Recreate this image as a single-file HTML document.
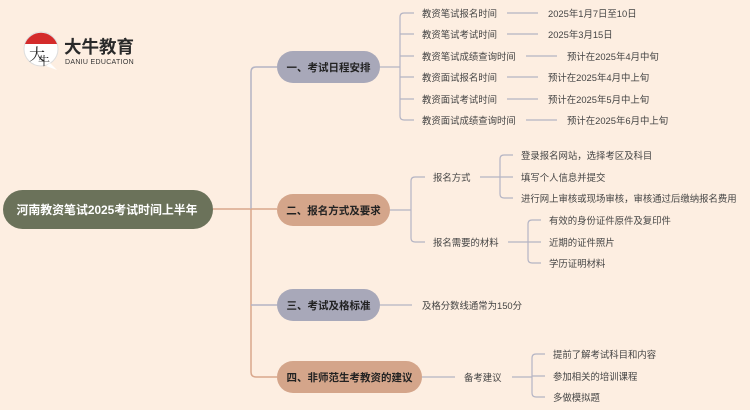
<!DOCTYPE html>
<html><head><meta charset="utf-8"><style>
html,body{margin:0;padding:0;background:#fdeee1;}
svg{display:block;font-family:"Liberation Sans","Noto Sans CJK SC",sans-serif;}
.l{font-size:9.4px;fill:#444;}
.n{font-size:10.5px;font-weight:bold;fill:#222;}
</style></head><body>
<svg width="750" height="410" viewBox="0 0 750 410">
<rect width="750" height="410" fill="#fdeee1"/>
<!-- logo -->
<circle cx="41" cy="49" r="17" fill="#fff" stroke="#ddd" stroke-width="1"/>
<path d="M25 44 A17 17 0 0 1 57 44 Z" fill="#d42b2b"/>
<path d="M50 63 L57 70 L46 66 Z" fill="#fff"/>
<text x="29" y="60" font-size="16" font-family="Noto Serif CJK SC,serif" fill="#222">大</text>
<text x="38" y="65" font-size="12" font-family="Noto Serif CJK SC,serif" fill="#222">牛</text>
<text x="64" y="53" font-size="17.5" font-weight="bold" fill="#2a2a2a">大牛教育</text>
<text x="65" y="64" font-size="7" fill="#333" letter-spacing="0.3">DANIU EDUCATION</text>
<!-- trunk -->
<g fill="none" stroke-width="1.5">
<path d="M213 209 H251" stroke="#d9a78c"/>
<path d="M277 67 H256 Q251 67 251 72 V209" stroke="#b4b4c4"/>
<path d="M251 209 V372 Q251 377 256 377 H277" stroke="#d9a78c"/>
<path d="M251 209 H277" stroke="#d9a78c"/>
<path d="M251 305 H277" stroke="#b4b4c4"/>
</g>
<!-- branch1 -->
<g fill="none" stroke="#b4b4c4" stroke-width="1.2">
<path d="M380 67 H400"/>
<path d="M414 13 H404 Q400 13 400 17 V116 Q400 120 404 120 H414"/>
<path d="M400 34 H414 M400 56 H414 M400 77 H414 M400 99 H414"/>
<path d="M507 13 H538 M507 34 H538 M526 56 H557 M507 77 H538 M507 99 H538 M526 120 H557"/>
</g>
<text class="l" x="422" y="17">教资笔试报名时间</text>
<text class="l" x="422" y="38">教资笔试考试时间</text>
<text class="l" x="422" y="60">教资笔试成绩查询时间</text>
<text class="l" x="422" y="81">教资面试报名时间</text>
<text class="l" x="422" y="103">教资面试考试时间</text>
<text class="l" x="422" y="124">教资面试成绩查询时间</text>
<text class="l" x="548" y="17">2025年1月7日至10日</text>
<text class="l" x="548" y="38">2025年3月15日</text>
<text class="l" x="567" y="60">预计在2025年4月中旬</text>
<text class="l" x="548" y="81">预计在2025年4月中上旬</text>
<text class="l" x="548" y="103">预计在2025年5月中上旬</text>
<text class="l" x="567" y="124">预计在2025年6月中上旬</text>
<!-- branch2 -->
<g fill="none" stroke="#b4b4c4" stroke-width="1.2">
<path d="M390 210 H411"/>
<path d="M425 177 H415 Q411 177 411 181 V238 Q411 242 415 242 H425"/>
<path d="M480 177 H500"/>
<path d="M513 155 H504 Q500 155 500 159 V194 Q500 198 504 198 H513 M500 177 H513"/>
<path d="M508 242 H528"/>
<path d="M541 220 H532 Q528 220 528 224 V259 Q528 263 532 263 H541 M528 242 H541"/>
</g>
<text class="l" x="433" y="181">报名方式</text>
<text class="l" x="433" y="246">报名需要的材料</text>
<text class="l" x="521" y="159">登录报名网站，选择考区及科目</text>
<text class="l" x="521" y="181">填写个人信息并提交</text>
<text class="l" x="521" y="202">进行网上审核或现场审核，审核通过后缴纳报名费用</text>
<text class="l" x="549" y="224">有效的身份证件原件及复印件</text>
<text class="l" x="549" y="246">近期的证件照片</text>
<text class="l" x="549" y="267">学历证明材料</text>
<!-- branch3 -->
<path d="M380 305 H412" stroke="#b4b4c4" stroke-width="1.2" fill="none"/>
<text class="l" x="422" y="309">及格分数线通常为150分</text>
<!-- branch4 -->
<g fill="none" stroke="#b4b4c4" stroke-width="1.2">
<path d="M422 377 H455"/>
<path d="M512 377 H532"/>
<path d="M545 354 H536 Q532 354 532 358 V393 Q532 397 536 397 H545 M532 376 H545"/>
</g>
<text class="l" x="464" y="381">备考建议</text>
<text class="l" x="553" y="358">提前了解考试科目和内容</text>
<text class="l" x="553" y="380">参加相关的培训课程</text>
<text class="l" x="553" y="401">多做模拟题</text>
<!-- nodes -->
<rect x="3" y="190" width="210" height="39" rx="19.5" fill="#6b725a"/>
<text x="107" y="214" text-anchor="middle" font-size="11.9" font-weight="bold" fill="#fff">河南教资笔试2025考试时间上半年</text>
<rect x="277" y="51" width="103" height="32" rx="16" fill="#a8a8b9"/>
<text class="n" x="328.5" y="71" text-anchor="middle">一、考试日程安排</text>
<rect x="277" y="194" width="113" height="32" rx="16" fill="#d4a58a"/>
<text class="n" x="333.5" y="214" text-anchor="middle">二、报名方式及要求</text>
<rect x="277" y="289" width="103" height="32" rx="16" fill="#a8a8b9"/>
<text class="n" x="328.5" y="309" text-anchor="middle">三、考试及格标准</text>
<rect x="277" y="361" width="145" height="32" rx="16" fill="#d4a58a"/>
<text class="n" x="349.5" y="381" text-anchor="middle">四、非师范生考教资的建议</text>
</svg>
</body></html>
